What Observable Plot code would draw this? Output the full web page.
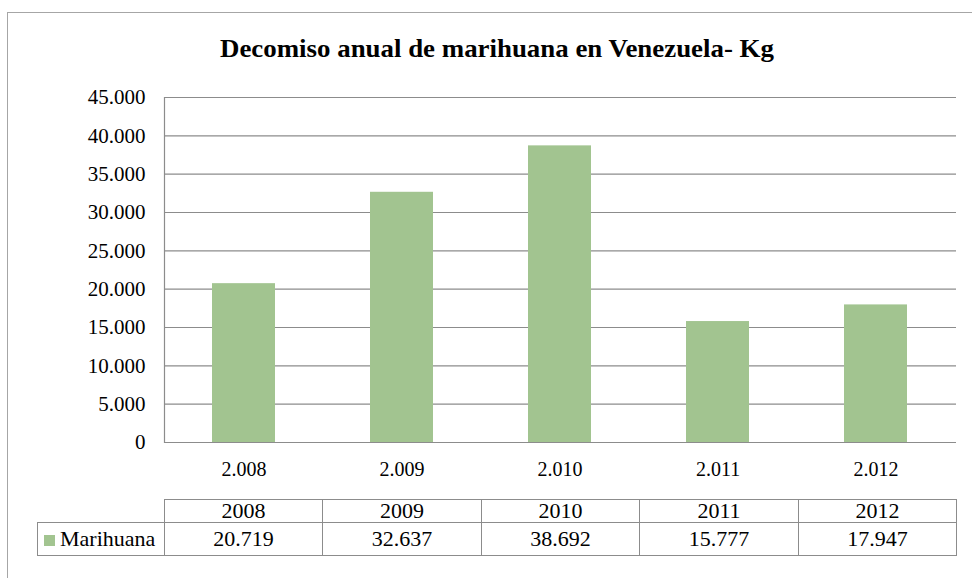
<!DOCTYPE html>
<html><head><meta charset="utf-8">
<script src="https://cdn.jsdelivr.net/npm/d3@7"></script>
<script src="https://cdn.jsdelivr.net/npm/@observablehq/plot@0.6"></script>
<style>
body{margin:0;background:#fff;}
#wrap{position:relative;width:972px;height:578px;overflow:hidden;font-family:"Liberation Serif","Times New Roman",serif;color:#000;background:#fff;}
#frame{position:absolute;left:7px;top:12px;width:1100px;height:700px;border:1px solid #a6a6a6;box-sizing:border-box;}
#title{position:absolute;left:0;width:994px;top:38px;line-height:22px;text-align:center;font-family:"Liberation Serif","Times New Roman",serif;font-weight:bold;font-size:25px;white-space:nowrap;transform:scaleX(1.075);transform-origin:497px 50%;}
#chart{position:absolute;left:0;top:0;}
#chart svg text{font-family:"Liberation Serif","Times New Roman",serif;}
.cell{position:absolute;box-sizing:border-box;border:1px solid #8c8c8c;text-align:center;font-size:22px;white-space:nowrap;font-family:"Liberation Serif","Times New Roman",serif;}
.sw{display:inline-block;width:11px;height:11px;margin-right:5px;vertical-align:0px;}
</style>
</head><body>
<div id="wrap">
  <div id="frame"></div>
  <div id="chart"></div>
  <div id="title"></div>
  <div id="table"></div>
</div>
<script>
// ---- data ----
const titleText = "Decomiso anual de marihuana en Venezuela- Kg";
const seriesName = "Marihuana";
const years = [2008, 2009, 2010, 2011, 2012];
const values = [20719, 32637, 38692, 15777, 17947];
const yTicks = [0, 5000, 10000, 15000, 20000, 25000, 30000, 35000, 40000, 45000];
const barColor = "#A2C490";

const esLocale = d3.formatLocale({decimal: ",", thousands: ".", grouping: [3], currency: ["", ""]});
const fmt = esLocale.format(",d");
const data = years.map((y, i) => ({year: y, value: values[i]}));

const W = 972, H = 578, mL = 164, mR = 16, mT = 97, mB = 136;
const font = '"Liberation Serif","Times New Roman",serif';

const chart = Plot.plot({
  width: W, height: H,
  marginLeft: mL, marginRight: mR, marginTop: mT, marginBottom: mB,
  style: `font-family: ${font}; font-size: 20px; color: #000; background: transparent;`,
  x: {domain: years, paddingInner: 0.6, paddingOuter: 0.3, label: null},
  y: {domain: [0, 45000], label: null},
  marks: [
    Plot.gridY(yTicks, {stroke: "#8c8c8c", strokeOpacity: 1, strokeWidth: 1.2}),
    Plot.frame({anchor: "left", stroke: "#8c8c8c", strokeWidth: 1.2}),
    Plot.barY(data, {x: "year", y: "value", fill: barColor}),
    Plot.axisY(yTicks, {tickSize: 0, tickPadding: 19, fontSize: 21, fontFamily: font, tickFormat: fmt, label: null}),
    Plot.axisX({tickSize: 0, tickPadding: 19, fontSize: 20, fontFamily: font, tickFormat: fmt, label: null})
  ]
});
document.getElementById("chart").appendChild(chart);
document.getElementById("title").textContent = titleText;

// ---- data table below the chart ----
const table = document.getElementById("table");
const n = years.length;
const colW = (W - mL - mR) / n;
function cell(left, top, w, h, html) {
  const d = document.createElement("div");
  d.className = "cell";
  d.style.left = left + "px";
  d.style.top = top + "px";
  d.style.width = w + "px";
  d.style.height = h + "px";
  d.style.lineHeight = (h - 2) + "px";
  d.innerHTML = html;
  table.appendChild(d);
  return d;
}
const hdrTop = 499, hdrH = 24, rowTop = 522, rowH = 34;
years.forEach((y, i) => {
  const l = Math.round(mL + i * colW);
  const r = Math.round(mL + (i + 1) * colW);
  cell(l, hdrTop, r - l + 1, hdrH, String(y));
  cell(l, rowTop, r - l + 1, rowH, fmt(values[i]));
});
const lc = cell(37, rowTop, mL - 37 + 1, rowH, "");
lc.style.textAlign = "left";
lc.style.paddingLeft = "6px";
const sw = document.createElement("span");
sw.className = "sw";
sw.style.background = barColor;
lc.appendChild(sw);
lc.appendChild(document.createTextNode(seriesName));
</script>
</body></html>
